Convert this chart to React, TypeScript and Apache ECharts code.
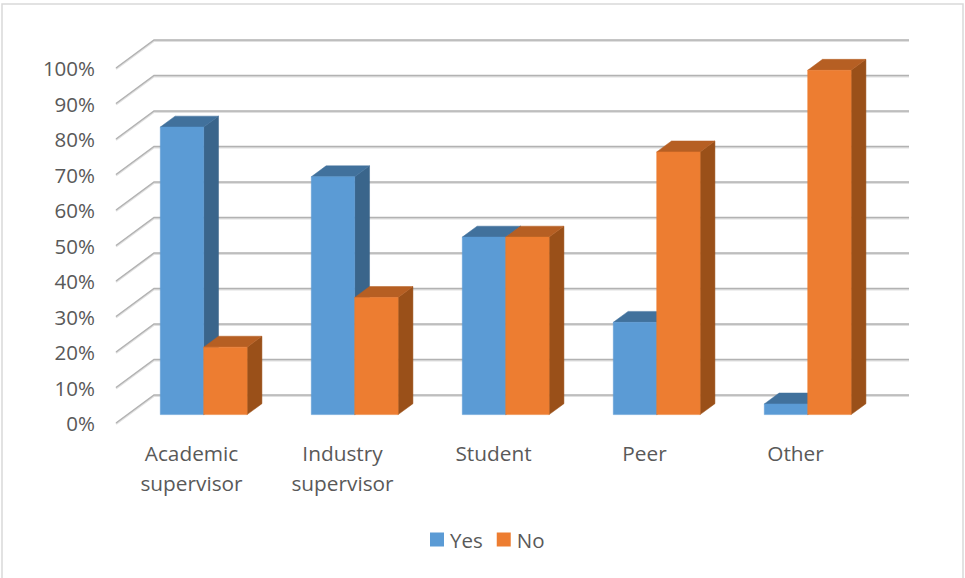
import React, { useEffect, useRef } from "react";
import * as echarts from "echarts";

const categories = ["Academic\nsupervisor", "Industry\nsupervisor", "Student", "Peer", "Other"];
const yesValues = [81, 67, 50, 26, 3];
const noValues = [19, 33, 50, 74, 97];
const gridValues = [0, 10, 20, 30, 40, 50, 60, 70, 80, 90, 100];

const FONT = "'Open Sans', sans-serif";
const TEXT = "#595959";

// Oblique projection of the chart's floor depth onto the screen.
const DEPTH_X = 38;
const DEPTH_Y = 28;
const BAR_FRONT = 0.3;
const BAR_BACK = 0.69;
const BAR_W = 43.4;
const BAR_NUDGE = 0.8;

type Shades = { front: string; top: string; side: string };
const yesShades: Shades = { front: "#5b9bd5", top: "#41719c", side: "#3a658b" };
const noShades: Shades = { front: "#ed7d31", top: "#b65f23", side: "#9a5019" };

const project = (x: number, y: number, d: number) => [x + DEPTH_X * d, y - DEPTH_Y * d];

// A bar as three faces; xShift places it on the left or right of the band centre.
const boxRenderer = (shades: Shades, xShift: number) => (_: any, api: any) => {
  const cat = api.value(0);
  const val = api.value(1);
  const [cx, yTop] = api.coord([cat, val]);
  const [, yBase] = api.coord([cat, 0]);
  const x0 = cx + xShift + BAR_NUDGE;
  const x1 = x0 + BAR_W;
  const fTL = project(x0, yTop, BAR_FRONT);
  const fTR = project(x1, yTop, BAR_FRONT);
  const fBR = project(x1, yBase, BAR_FRONT);
  const fBL = project(x0, yBase, BAR_FRONT);
  const bTL = project(x0, yTop, BAR_BACK);
  const bTR = project(x1, yTop, BAR_BACK);
  const bBR = project(x1, yBase, BAR_BACK);
  const face = (points: number[][], fill: string) => ({
    type: "polygon",
    shape: { points },
    style: { fill, stroke: fill, lineWidth: 0.5 },
  });
  return {
    type: "group",
    children: [
      face([fTR, bTR, bBR, fBR], shades.side),
      face([fTL, bTL, bTR, fTR], shades.top),
      face([fTL, fTR, fBR, fBL], shades.front),
    ],
  };
};

// Back wall line with its diagonal running forward along the side wall.
const wallRenderer = (params: any, api: any) => {
  const sys = params.coordSys;
  const [, y] = api.coord([0, api.value(1)]);
  const a = [sys.x, y];
  const b = project(sys.x, y, 1);
  const c = [sys.x + sys.width + DEPTH_X, b[1]];
  const line = (dy: number, stroke: string, lineWidth: number) => ({
    type: "polyline",
    shape: { points: [a, b, c].map((p) => [p[0], p[1] + dy]) },
    style: { fill: "none", stroke, lineWidth },
  });
  return {
    type: "group",
    children: [line(1, "#e0e0e0", 2), line(0, "#b2b2b2", 1.5)],
  };
};

export default function App() {
  const ref = useRef<HTMLDivElement>(null);

  useEffect(() => {
    const chart = echarts.init(ref.current!, undefined, { renderer: "svg" });
    chart.setOption({
      animation: false,
      backgroundColor: "#ffffff",
      textStyle: { fontFamily: FONT },
      grid: { left: 116, top: 68, width: 755, height: 355 },
      graphic: [
        {
          type: "rect",
          silent: true,
          z: -1,
          shape: { x: 2, y: 4, width: 961, height: 580 },
          style: { fill: "none", stroke: "#d9d9d9", lineWidth: 1.5 },
        },
      ],
      legend: {
        data: ["Yes", "No"],
        left: 425,
        top: 524,
        icon: "rect",
        itemWidth: 14,
        itemHeight: 14,
        itemGap: 14,
        selectedMode: false,
        textStyle: { color: TEXT, fontSize: 20.5, fontFamily: FONT, padding: [0, 0, 0, 1] },
      },
      xAxis: {
        type: "category",
        data: categories,
        axisLine: { show: false },
        axisTick: { show: false },
        axisLabel: { color: TEXT, fontSize: 20.8, fontFamily: FONT, lineHeight: 30, margin: 15, interval: 0 },
      },
      yAxis: {
        type: "value",
        min: 0,
        max: 100,
        interval: 10,
        axisLine: { show: false },
        axisTick: { show: false },
        splitLine: { show: false },
        axisLabel: { color: TEXT, fontSize: 20.5, fontFamily: FONT, formatter: "{value}%", margin: 21 },
      },
      series: [
        {
          type: "custom",
          name: "Walls",
          silent: true,
          renderItem: wallRenderer,
          data: gridValues.map((v) => [0, v]),
          encode: { x: 0, y: 1 },
          z: 1,
        },
        {
          type: "custom",
          name: "Yes",
          silent: true,
          itemStyle: { color: yesShades.front },
          renderItem: boxRenderer(yesShades, -BAR_W),
          data: yesValues.map((v, i) => [i, v]),
          encode: { x: 0, y: 1 },
          z: 2,
        },
        {
          type: "custom",
          name: "No",
          silent: true,
          itemStyle: { color: noShades.front },
          renderItem: boxRenderer(noShades, 0),
          data: noValues.map((v, i) => [i, v]),
          encode: { x: 0, y: 1 },
          z: 3,
        },
      ],
    });
    return () => chart.dispose();
  }, []);

  return <div ref={ref} style={{ position: "absolute", left: 0, top: 0, width: 965, height: 578 }} />;
}
